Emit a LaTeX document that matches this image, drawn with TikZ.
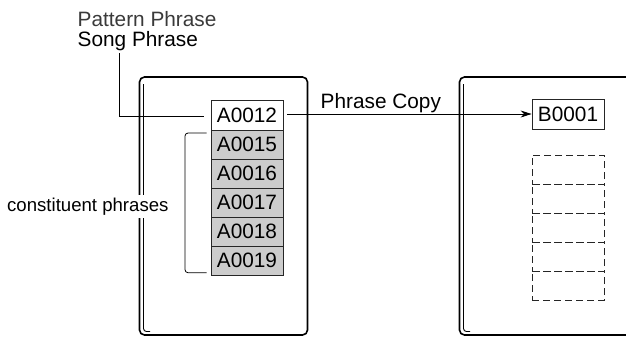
\documentclass[tikz,border=0pt]{standalone}
\usepackage{fontspec}
\setmainfont{Liberation Sans}
\usetikzlibrary{arrows.meta}
\definecolor{cellgray}{HTML}{CCCCCC}
\definecolor{labelgray}{HTML}{3A3A3A}
\begin{document}
\begin{tikzpicture}[x=1bp,y=-1bp,
  big/.style={font=\fontsize{20.8bp}{24bp}\selectfont},
  small/.style={font=\fontsize{18.6bp}{22bp}\selectfont},
  cell/.style={draw=black!85,line width=0.8bp,minimum width=72bp,minimum height=29bp,inner sep=0pt,big},
  fullcell/.style={cell,fill=cellgray},
  dashcell/.style={draw=black!85,line width=0.8bp,dash pattern=on 7bp off 4bp,minimum width=72bp,minimum height=29bp,inner sep=0pt},
  frame/.style={line width=1.6bp,rounded corners=5bp},
  spine/.style={line width=0.9bp},
  lead/.style={line width=0.8bp}]
\useasboundingbox (0,0) rectangle (626,338);
% panels
\draw[frame] (139.5,335) -- (139.5,77) -- (307.5,77) -- (307.5,335) -- cycle;
\draw[spine,rounded corners=3bp] (143.5,84) -- (143.5,331.5) -- (150,331.5);
\draw[frame] (635,335) -- (459.5,335) -- (459.5,77) -- (635,77);
\draw[spine,rounded corners=3bp] (463.5,84) -- (463.5,331.5) -- (470,331.5);
% labels
\node[big,text=labelgray,anchor=base west,inner sep=0pt] (pat) at (77.5,26) {Pattern Phrase};
\node[big,anchor=base west,inner sep=0pt] (song) at (77.5,46.5) {Song Phrase};
% left cells
\node[cell,minimum height=30bp] (a12) at (247,115) {A0012};
\node[fullcell] (a15) at (247,144.5) {A0015};
\node[fullcell] (a16) at (247,173.5) {A0016};
\node[fullcell] (a17) at (247,202.5) {A0017};
\node[fullcell] (a18) at (247,231.5) {A0018};
\node[fullcell] (a19) at (247,260.5) {A0019};
% right cells
\node[cell,minimum height=30bp] (b01) at (568,114) {B0001};
\node[dashcell] (d1) at (568,169.5) {};
\node[dashcell] (d2) at (568,198.5) {};
\node[dashcell] (d3) at (568,227.5) {};
\node[dashcell] (d4) at (568,256.5) {};
\node[dashcell] (d5) at (568,285.5) {};
% leader
\coordinate (ls) at (119.3,53);
\coordinate (le) at (204,116);
\draw[lead] (ls) |- (le);
% bracket
\coordinate (bt) at (206.7,133);
\coordinate (bb) at (206.7,272.7);
\draw[lead,rounded corners=3bp] (bt) -- (185,133) -- (185,272.7) -- (bb);
\node[small,fill=white,anchor=base west,inner xsep=0pt,inner ysep=3bp] (cons) at (7,211) {constituent phrases};
% copy arrow
\coordinate (as) at (287,114);
\draw[lead,-{Stealth[length=11bp,width=7bp]}] (as) -- (b01.west);
\node[big,anchor=base west,inner sep=0pt] (copy) at (320.5,108.3) {Phrase Copy};
\end{tikzpicture}
\end{document}
